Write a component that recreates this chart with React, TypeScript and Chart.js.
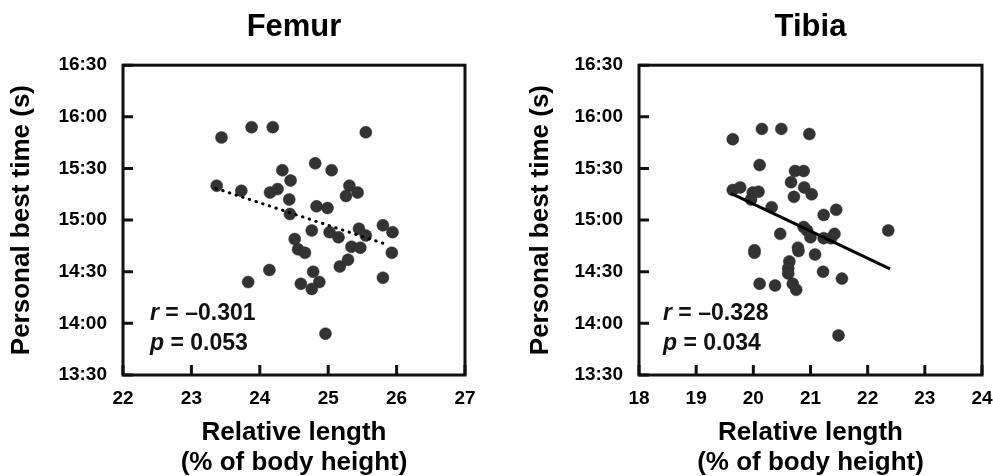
import React, { useEffect, useRef } from 'react';
import { Chart, registerables } from 'chart.js';

Chart.register(...registerables);

const FONT = '"Liberation Sans", Arial, Helvetica, sans-serif';

// y axis: personal best time in seconds (13:30 .. 16:30)
const yMinSec = 810;
const yMaxSec = 990;
const yStepSec = 30;

// Femur panel
const femurX = [
  23.44, 23.88, 24.19, 25.55, 24.81, 25.05, 24.33, 24.45, 23.37, 23.73,
  24.15, 24.26, 25.31, 25.26, 25.43, 24.43, 24.83, 24.99, 24.44, 24.76,
  25.02, 25.15, 25.45, 25.55, 25.8, 25.94, 24.51, 24.56, 24.66, 25.34,
  25.47, 25.93, 25.29, 25.17, 24.78, 24.14, 23.83, 24.6, 24.87, 24.76,
  25.8, 24.96,
];
const femurY = [
  948, 954, 954, 951, 933, 929, 929, 923, 920, 917,
  916, 918, 920, 914, 916, 912, 908, 907, 903.5, 894,
  893, 890, 895, 891, 897, 893, 889, 883, 881, 884.5,
  884, 881, 877, 873, 870, 871, 864, 863, 864, 860,
  866.5, 834,
];
const femurTrendX = [23.36, 25.88];
const femurTrendY = [918.4, 885.5];
const femurR = '–0.301';
const femurP = '0.053';

// Tibia panel
const tibiaX = [
  19.64, 20.15, 20.49, 20.98, 20.11, 20.73, 20.88, 20.66, 20.89, 19.64,
  19.77, 19.99, 20.09, 19.96, 21.02, 20.71, 20.32, 21.45, 21.23, 20.88,
  20.94, 21.0, 20.47, 21.23, 21.36, 21.42, 22.36, 20.02, 20.02, 20.78,
  20.79, 21.08, 20.63, 20.61, 20.61, 21.22, 20.11, 20.38, 20.69, 20.75,
  21.55, 21.49,
];
const tibiaY = [
  947, 953, 953, 950, 932, 928.5, 928.5, 922, 919, 917.5,
  919, 916, 916.5, 912, 915, 913.5, 907.5, 906, 903, 896,
  894, 890, 892, 889.5, 889.5, 892, 894, 882.5, 881, 884,
  882, 880, 876, 872, 869, 870, 863, 862, 863, 859.5,
  866, 833,
];
const tibiaTrendX = [19.61, 22.39];
const tibiaTrendY = [915.5, 871.6];
const tibiaR = '–0.328';
const tibiaP = '0.034';

const xTitle = ['Relative length', '(% of body height)'];
const yTitle = 'Personal best time (s)';

function fmtTime(v: number): string {
  const m = Math.floor(v / 60);
  const s = Math.round(v - m * 60);
  return `${m}:${s < 10 ? '0' + s : s}`;
}

type PanelProps = {
  left: number;
  width: number;
  title: string;
  xMin: number;
  xMax: number;
  xs: number[];
  ys: number[];
  trendX: number[];
  trendY: number[];
  dashed: boolean;
  r: string;
  p: string;
  padRight: number;
  yTitlePad: number;
  statsOffset: number;
};

function Panel(props: PanelProps) {
  const ref = useRef<HTMLCanvasElement>(null);
  useEffect(() => {
    const canvas = ref.current;
    if (!canvas) return;
    const pts = props.xs.map((x, i) => ({ x, y: props.ys[i] }));
    const trend = props.trendX.map((x, i) => ({ x, y: props.trendY[i] }));

    const framePlugin = {
      id: 'frame',
      afterDraw(chart: any) {
        const { ctx, chartArea } = chart;
        const { left, right, top, bottom } = chartArea;
        ctx.save();
        ctx.strokeStyle = '#111';
        ctx.lineWidth = 3;
        ctx.strokeRect(left, top, right - left, bottom - top);
        const xs = chart.scales.x;
        const ys = chart.scales.y;
        ctx.beginPath();
        xs.ticks.forEach((t: any) => {
          const px = xs.getPixelForValue(t.value);
          ctx.moveTo(px, bottom);
          ctx.lineTo(px, bottom - 10);
        });
        ys.ticks.forEach((t: any) => {
          const py = ys.getPixelForValue(t.value);
          ctx.moveTo(left, py);
          ctx.lineTo(left + 10, py);
        });
        ctx.stroke();

        // statistics text
        ctx.fillStyle = '#111';
        ctx.textBaseline = 'middle';
        ctx.textAlign = 'left';
        const sx = left + props.statsOffset;
        const y1 = bottom - 61;
        const y2 = bottom - 31;
        ctx.font = `italic bold 23px ${FONT}`;
        ctx.fillText('r', sx, y1);
        const wr = ctx.measureText('r').width;
        ctx.fillText('p', sx, y2);
        const wp = ctx.measureText('p').width;
        ctx.font = `bold 23px ${FONT}`;
        ctx.fillText(` = ${props.r}`, sx + wr, y1);
        ctx.fillText(` = ${props.p}`, sx + wp, y2);
        ctx.restore();
      },
    };

    const tickFont = { family: FONT, size: 19, weight: 'bold' as const };
    const titleFont = { family: FONT, size: 26, weight: 'bold' as const, lineHeight: 1.15 };

    const chart = new Chart(canvas, {
      type: 'scatter',
      data: {
        datasets: [
          {
            type: 'line',
            data: trend,
            borderColor: '#000',
            borderWidth: 3,
            borderDash: props.dashed ? [0.5, 6.5] : [],
            borderCapStyle: props.dashed ? 'round' : 'butt',
            pointRadius: 0,
            fill: false,
            showLine: true,
            order: 0,
          } as any,
          {
            data: pts,
            backgroundColor: '#333333',
            borderColor: '#2a2a2a',
            borderWidth: 0.5,
            pointRadius: 6,
            order: 1,
          },
        ],
      },
      options: {
        animation: false,
        responsive: false,
        maintainAspectRatio: false,
        layout: { padding: { left: 0, right: props.padRight, top: 0, bottom: 0 } },
        plugins: {
          legend: { display: false },
          tooltip: { enabled: false },
          title: {
            display: true,
            text: props.title,
            color: '#000',
            fullSize: false,
            font: { family: FONT, size: 31, weight: 'bold' },
            padding: { top: 9, bottom: 19 },
          },
        },
        scales: {
          x: {
            type: 'linear',
            min: props.xMin,
            max: props.xMax,
            ticks: { stepSize: 1, color: '#000', font: tickFont, padding: 12 },
            grid: { display: false, drawTicks: false },
            border: { display: false },
            title: {
              display: true,
              text: xTitle,
              color: '#000',
              font: titleFont,
              padding: { top: 0, bottom: -2 },
            },
            afterFit: (s: any) => {
              s.height = 101;
            },
          },
          y: {
            type: 'linear',
            min: yMinSec,
            max: yMaxSec,
            ticks: {
              stepSize: yStepSec,
              color: '#000',
              font: tickFont,
              padding: 16,
              callback: (v: any) => fmtTime(Number(v)),
            },
            grid: { display: false, drawTicks: false },
            border: { display: false },
            title: {
              display: true,
              text: yTitle,
              color: '#000',
              font: titleFont,
              padding: { top: props.yTitlePad, bottom: 0 },
            },
            afterFit: (s: any) => {
              s.width = 123;
            },
          },
        },
      },
      plugins: [framePlugin],
    });
    return () => chart.destroy();
  }, []);

  return (
    <canvas
      ref={ref}
      width={props.width}
      height={476}
      style={{ position: 'absolute', left: props.left, top: 0, width: props.width, height: 476 }}
    />
  );
}

export default function App() {
  return (
    <div style={{ position: 'absolute', left: 0, top: 0, width: 993, height: 476, background: '#fff', overflow: 'hidden' }}>
      <Panel
        left={0}
        width={516}
        title="Femur"
        xMin={22}
        xMax={27}
        xs={femurX}
        ys={femurY}
        trendX={femurTrendX}
        trendY={femurTrendY}
        dashed={true}
        r={femurR}
        p={femurP}
        padRight={51}
        yTitlePad={7}
        statsOffset={27}
      />
      <Panel
        left={516}
        width={496}
        title="Tibia"
        xMin={18}
        xMax={24}
        xs={tibiaX}
        ys={tibiaY}
        trendX={tibiaTrendX}
        trendY={tibiaTrendY}
        dashed={false}
        r={tibiaR}
        p={tibiaP}
        padRight={30}
        yTitlePad={10}
        statsOffset={24}
      />
    </div>
  );
}
